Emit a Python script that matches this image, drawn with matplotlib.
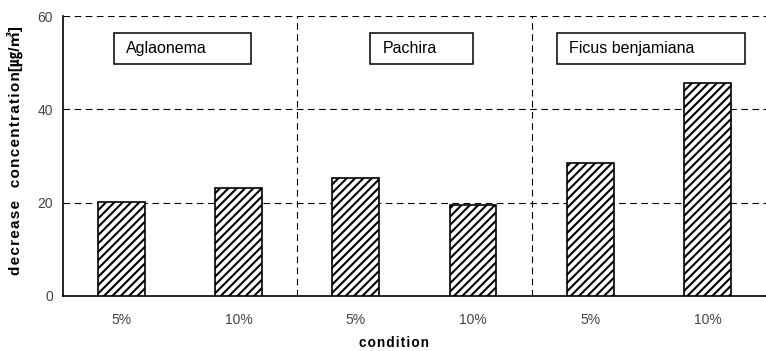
import matplotlib
matplotlib.use('Agg')
from matplotlib import pyplot as plt
from matplotlib.patches import Rectangle

plt.rcParams['font.family'] = ['Liberation Sans', 'DejaVu Sans', 'Noto Sans CJK KR']
plt.rcParams['hatch.linewidth'] = 1.5

# data
conditions = ['5%', '10%', '5%', '10%', '5%', '10%']
decrease = [20.1, 23.1, 25.3, 19.4, 28.6, 45.6]
plants = ['Aglaonema', 'Pachira', 'Ficus benjamiana']
# box spans (x in category units)
box_left = [-0.065, 2.125, 3.715]
box_right = [1.105, 3.0, 5.325]

fig = plt.figure(figsize=(7.66, 3.51), dpi=100)
ax = fig.add_axes([0.082, 0.157, 0.918, 0.797])

x = list(range(len(decrease)))
ax.bar(x, decrease, width=0.4, color='white', edgecolor='black',
       hatch='////', linewidth=1.2, zorder=3)

ax.set_xlim(-0.5, 5.5)
ax.set_ylim(0, 60)
ax.set_yticks([0, 20, 40, 60])
ax.set_xticks(x)
ax.set_xticklabels(conditions)
ax.tick_params(length=0, labelsize=10, colors='#444444')
ax.tick_params(axis='x', pad=12)
ax.tick_params(axis='y', pad=7)

# dashed grid and group separators
for yv in [20, 40, 60]:
    ax.axhline(yv, color='black', linestyle=(0, (6, 4)), linewidth=0.8, zorder=1)
for xv in [1.5, 3.5]:
    ax.axvline(xv, color='black', linestyle=(0, (6, 4)), linewidth=0.8, zorder=1)

ax.spines['top'].set_visible(False)
ax.spines['right'].set_visible(False)
ax.spines['left'].set_linewidth(1.2)
ax.spines['bottom'].set_linewidth(1.2)

# plant name boxes
for name, l, r in zip(plants, box_left, box_right):
    ax.add_patch(Rectangle((l, 49.7), r - l, 6.6, facecolor='white',
                           edgecolor='black', linewidth=1.1, zorder=4))
    ax.text(l + 0.105, 53.0, name, fontsize=11.5, va='center', ha='left', zorder=5)

hs = '\u200a'
ax.set_xlabel(hs.join('condition'), fontsize=9.8, fontweight='bold')
ax.xaxis.set_label_coords(0.471, -0.142)
ax.set_ylabel(hs.join('decrease') + '   ' + hs.join('concentration') + '[㎍/㎥]',
              fontsize=11, fontweight='bold')
ax.yaxis.set_label_coords(-0.056, 0.52)

fig.savefig('out.png', dpi=100)
